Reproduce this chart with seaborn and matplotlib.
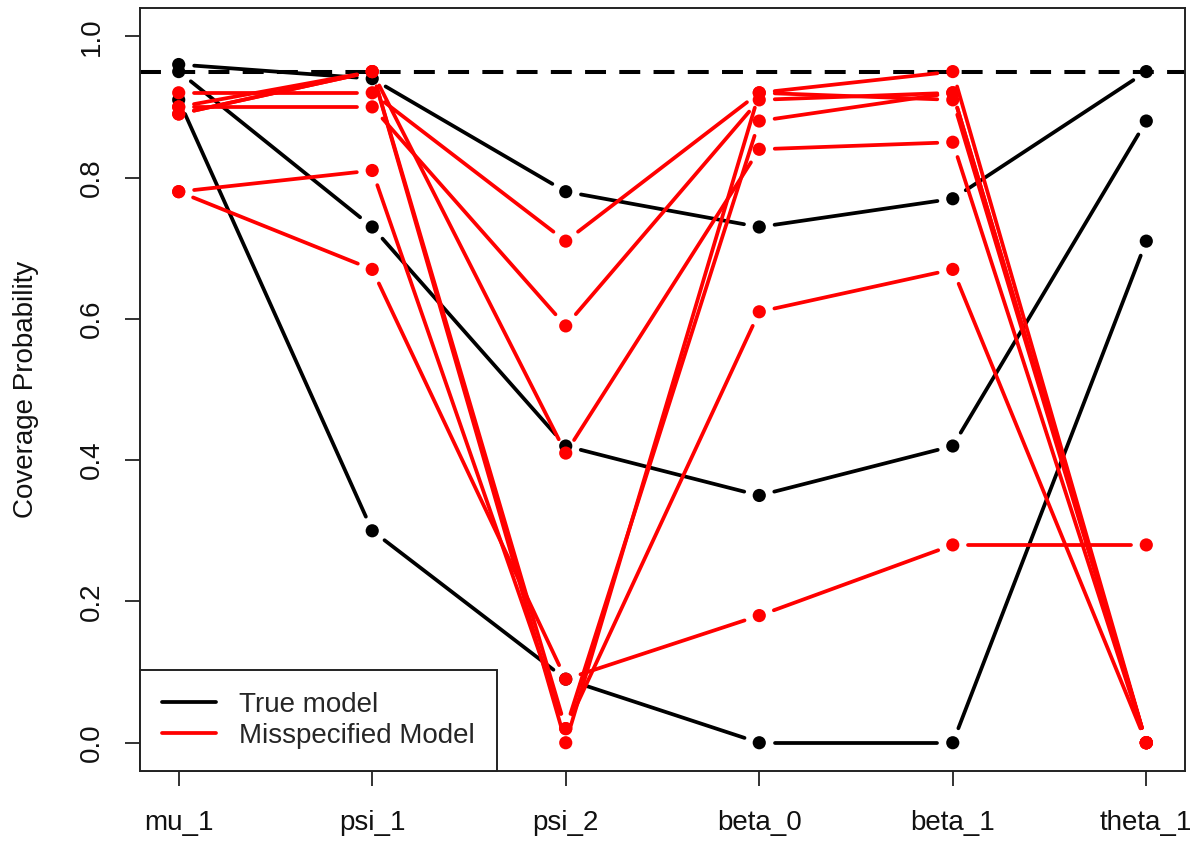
import numpy as np
import pandas as pd
import matplotlib
matplotlib.use("Agg")
import matplotlib.pyplot as plt
import seaborn as sns
from matplotlib.lines import Line2D

# ---------------- data ----------------
params = ["mu_1", "psi_1", "psi_2", "beta_0", "beta_1", "theta_1"]
y_ticks = [0.0, 0.2, 0.4, 0.6, 0.8, 1.0]
y_tick_labels = ["0.0", "0.2", "0.4", "0.6", "0.8", "1.0"]

true_1 = [0.96, 0.94, 0.78, 0.73, 0.77, 0.95]
true_2 = [0.95, 0.73, 0.42, 0.35, 0.42, 0.88]
true_3 = [0.91, 0.30, 0.09, 0.00, 0.00, 0.71]

mis_1 = [0.92, 0.92, 0.71, 0.92, 0.91, 0.00]
mis_2 = [0.90, 0.90, 0.59, 0.91, 0.92, 0.00]
mis_3 = [0.89, 0.95, 0.41, 0.84, 0.85, 0.00]
mis_4 = [0.89, 0.95, 0.02, 0.88, 0.92, 0.00]
mis_5 = [0.90, 0.95, 0.00, 0.92, 0.95, 0.00]
mis_6 = [0.78, 0.81, 0.02, 0.61, 0.67, 0.00]
mis_7 = [0.78, 0.67, 0.09, 0.18, 0.28, 0.28]

nominal = 0.95

models = ["True model", "Misspecified Model"]
series = {
    "True model": [true_1, true_2, true_3],
    "Misspecified Model": [mis_1, mis_2, mis_3, mis_4, mis_5, mis_6, mis_7],
}
colors = {"True model": "#000000", "Misspecified Model": "#ff0000"}

# ---------------- style ----------------
sns.set_style("ticks")
plt.rcParams["font.family"] = ["Liberation Sans", "DejaVu Sans"]
FS = 20

W, H = 1194, 842
fig = plt.figure(figsize=(W / 100, H / 100), dpi=100)
L, R, B, T = 140, 1185, 771, 8
ax = fig.add_axes([L / W, (H - B) / H, (R - L) / W, (B - T) / H])
ax.set_xlim(-0.2, 5.2)
ax.set_ylim(-0.04, 1.04)

# long-format point table
pt_rows = []
for m in models:
    for k, vals in enumerate(series[m]):
        for i, v in enumerate(vals):
            pt_rows.append({"model": m, "series": f"{m}_{k}", "pos": i, "value": v})
pts = pd.DataFrame(pt_rows)

# R "type = b": segments stop short of each point
gap = 15.5  # pixels
seg_rows = []
sid = 0
for (m, s), g in pts.groupby(["model", "series"], sort=False):
    xy = ax.transData.transform(g[["pos", "value"]].to_numpy(float))
    for i in range(len(xy) - 1):
        p0, p1 = xy[i], xy[i + 1]
        d = p1 - p0
        n = np.hypot(*d)
        if n <= 2 * gap:
            continue
        a = p0 + d / n * gap
        b = p1 - d / n * gap
        da, db = ax.transData.inverted().transform(np.vstack([a, b]))
        seg_rows.append({"model": m, "seg": sid, "x": da[0], "y": da[1]})
        seg_rows.append({"model": m, "seg": sid, "x": db[0], "y": db[1]})
        sid += 1
segs = pd.DataFrame(seg_rows)

ax.axhline(nominal, color="black", lw=2.9, linestyle=(0, (5.2, 3.3)), zorder=1)

z = 2
for m in models:
    sns.lineplot(data=segs[segs.model == m], x="x", y="y", units="seg",
                 estimator=None, sort=False, color=colors[m], lw=2.7,
                 legend=False, ax=ax, zorder=z)
    sns.scatterplot(data=pts[pts.model == m], x="pos", y="value",
                    color=colors[m], s=90, edgecolor="none", linewidth=0,
                    legend=False, ax=ax, zorder=z + 0.5)
    z += 1

# axes cosmetics
for sp in ax.spines.values():
    sp.set_visible(True)
    sp.set_color("#222222")
    sp.set_linewidth(1.4)

ax.set_xticks(range(len(params)))
ax.set_xticklabels(params, fontsize=FS)
ax.set_yticks(y_ticks)
ax.set_yticklabels(y_tick_labels, fontsize=FS, rotation=90, va="center")
ax.tick_params(axis="both", direction="out", length=11, width=1.3,
               color="#222222", labelcolor="#111111")
ax.tick_params(axis="x", pad=17)
ax.tick_params(axis="y", pad=14)
ax.set_xlabel("")
ax.set_ylabel("Coverage Probability", fontsize=FS, color="#111111")
ax.yaxis.set_label_coords(-0.097, 0.5)

handles = [Line2D([0], [0], color=colors[m], lw=2.7) for m in models]
leg = ax.legend(handles, models, loc="lower left", borderaxespad=0,
                frameon=True, fancybox=False, framealpha=1, edgecolor="#222222",
                fontsize=FS, handlelength=1.95, handletextpad=0.83,
                borderpad=0.8, labelspacing=0.18)
leg.get_frame().set_linewidth(1.4)
leg.set_zorder(10)

fig.savefig("out.png", dpi=100)
